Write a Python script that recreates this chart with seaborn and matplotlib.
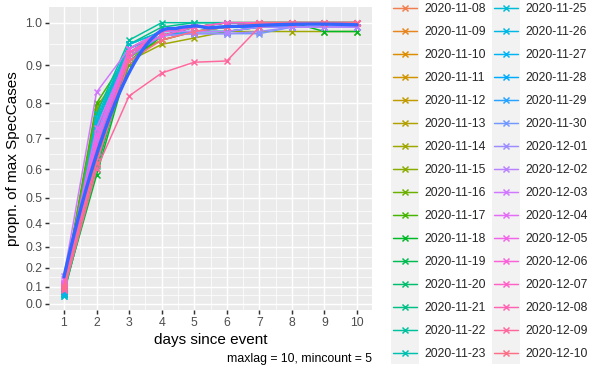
import numpy as np
import pandas as pd
import seaborn as sns
import matplotlib.pyplot as plt
from matplotlib.lines import Line2D
from matplotlib.patches import Rectangle

DAYS = [1, 2, 3, 4, 5, 6, 7, 8, 9, 10]

DATES = [
    "2020-11-08", "2020-11-09", "2020-11-10", "2020-11-11", "2020-11-12",
    "2020-11-13", "2020-11-14", "2020-11-15", "2020-11-16", "2020-11-17",
    "2020-11-18", "2020-11-19", "2020-11-20", "2020-11-21", "2020-11-22",
    "2020-11-23", "2020-11-25", "2020-11-26", "2020-11-27", "2020-11-28",
    "2020-11-29", "2020-11-30", "2020-12-01", "2020-12-02", "2020-12-03",
    "2020-12-04", "2020-12-05", "2020-12-06", "2020-12-07", "2020-12-08",
    "2020-12-09", "2020-12-10",
]

# proportion of max SpecCases, one row per event date, one column per day
PROPN = [
    [0.08, 0.62, 0.92, 0.97, 0.99, 1.00, 1.00, 1.00, 1.00, 1.00],
    [0.07, 0.64, 0.93, 0.98, 0.99, 0.99, 1.00, 1.00, 1.00, 1.00],
    [0.09, 0.66, 0.93, 0.97, 0.98, 0.99, 0.99, 1.00, 1.00, 1.00],
    [0.08, 0.68, 0.92, 0.96, 0.98, 0.99, 1.00, 1.00, 1.00, 1.00],
    [0.10, 0.70, 0.93, 0.97, 0.99, 0.99, 1.00, 1.00, 1.00, 1.00],
    [0.09, 0.72, 0.94, 0.98, 0.99, 1.00, 1.00, 1.00, 1.00, 1.00],
    [0.10, 0.79, 0.91, 0.95, 0.965, 0.98, 0.98, 0.98, 0.98, 0.98],
    [0.11, 0.78, 0.92, 0.96, 0.98, 0.98, 0.99, 0.99, 0.99, 0.99],
    [0.09, 0.63, 0.90, 0.97, 0.98, 0.99, 1.00, 1.00, 1.00, 1.00],
    [0.11, 0.80, 0.93, 0.98, 0.99, 1.00, 1.00, 1.00, 1.00, 1.00],
    [0.08, 0.58, 0.91, 0.97, 0.99, 1.00, 1.00, 1.00, 0.98, 0.98],
    [0.07, 0.60, 0.92, 0.98, 0.99, 0.99, 1.00, 1.00, 1.00, 1.00],
    [0.06, 0.61, 0.93, 0.97, 0.99, 1.00, 1.00, 1.00, 1.00, 1.00],
    [0.06, 0.74, 0.95, 0.99, 1.00, 1.00, 1.00, 1.00, 1.00, 1.00],
    [0.06, 0.77, 0.96, 1.00, 1.00, 1.00, 1.00, 1.00, 1.00, 1.00],
    [0.05, 0.75, 0.95, 0.98, 0.99, 0.99, 0.99, 0.99, 0.99, 0.99],
    [0.05, 0.76, 0.95, 0.98, 0.98, 0.98, 0.99, 0.99, 0.99, 0.99],
    [0.06, 0.74, 0.94, 0.98, 0.99, 0.99, 0.99, 0.99, 0.99, 0.99],
    [0.07, 0.72, 0.94, 0.97, 0.98, 0.98, 0.99, 0.99, 0.99, 0.99],
    [0.08, 0.70, 0.93, 0.98, 0.99, 0.99, 0.99, 0.99, 0.99, 0.99],
    [0.09, 0.68, 0.92, 0.97, 0.98, 0.99, 0.99, 0.99, 0.99, 0.99],
    [0.10, 0.66, 0.92, 0.97, 0.975, 0.975, 0.975, 0.99, 0.99, 0.99],
    [0.11, 0.69, 0.93, 0.97, 0.975, 0.975, 0.98, 0.99, 0.99, 0.99],
    [0.12, 0.70, 0.93, 0.98, 0.98, 0.98, 0.99, 0.99, 0.99, 0.99],
    [0.16, 0.83, 0.94, 0.98, 0.99, 0.99, 1.00, 1.00, 1.00, 1.00],
    [0.14, 0.73, 0.93, 0.98, 0.99, 1.00, 1.00, 1.00, 1.00, 1.00],
    [0.12, 0.71, 0.94, 0.98, 0.99, 0.99, 1.00, 1.00, 1.00, 1.00],
    [0.11, 0.68, 0.93, 0.97, 0.99, 0.99, 1.00, 1.00, 1.00, 1.00],
    [0.10, 0.66, 0.92, 0.98, 0.99, 1.00, 1.00, 1.00, 1.00, 1.00],
    [0.09, 0.64, 0.93, 0.98, 0.99, 0.99, 1.00, 1.00, 1.00, 1.00],
    [0.08, 0.60, 0.82, 0.88, 0.907, 0.91, 0.99, 1.00, 1.00, 1.00],
    [0.10, 0.62, 0.91, 0.96, 0.98, 0.99, 1.00, 1.00, 1.00, 1.00],
]

Y_TICKS = [0.0, 0.1, 0.2, 0.3, 0.4, 0.5, 0.6, 0.7, 0.8, 0.9, 1.0]
FIRST_LEVEL = "2020-11-07"
N_LEVELS = 34
CAPTION = "maxlag = 10, mincount = 5"


def hcl_colour(h, c=100.0, l=65.0):
    # ggplot-style hue colour (polar Luv -> sRGB)
    hr = np.deg2rad(h)
    u, v = c * np.cos(hr), c * np.sin(hr)
    xn, yn, zn = 95.047, 100.0, 108.883
    den = xn + 15 * yn + 3 * zn
    un, vn = 4 * xn / den, 9 * yn / den
    y = yn * ((l + 16) / 116) ** 3
    up, vp = u / (13 * l) + un, v / (13 * l) + vn
    x = y * 9 * up / (4 * vp)
    z = y * (12 - 3 * up - 20 * vp) / (4 * vp)
    m = np.array([[3.2406, -1.5372, -0.4986],
                  [-0.9689, 1.8758, 0.0415],
                  [0.0557, -0.2040, 1.0570]])
    rgb = m @ (np.array([x, y, z]) / 100)
    rgb = np.where(rgb <= 0.0031308, 12.92 * rgb,
                   1.055 * np.abs(rgb) ** (1 / 2.4) - 0.055)
    return tuple(np.clip(rgb, 0, 1))


def loess(x, y, xs, span=0.75):
    n = len(x)
    k = int(np.ceil(span * n))
    fit = []
    for x0 in xs:
        d = np.abs(x - x0)
        h = np.sort(d)[k - 1]
        w = np.clip(1 - (d / h) ** 3, 0, 1) ** 3
        X = np.column_stack([np.ones(n), x - x0, (x - x0) ** 2])
        sw = np.sqrt(w)
        beta = np.linalg.lstsq(X * sw[:, None], y * sw, rcond=None)[0]
        fit.append(beta[0])
    return np.array(fit)


rows = []
for date, vals in zip(DATES, PROPN):
    for day, p in zip(DAYS, vals):
        rows.append({"date": date, "day": day, "propn": p})
df = pd.DataFrame(rows)

start = pd.Timestamp(FIRST_LEVEL)
palette = {}
for date in DATES:
    idx = (pd.Timestamp(date) - start).days
    palette[date] = hcl_colour(15 + 360 * idx / N_LEVELS)

sns.set_theme(style="darkgrid")
plt.rcParams["font.family"] = ["Liberation Sans", "DejaVu Sans"]
plt.rcParams["axes.facecolor"] = "#EBEBEB"

W, H = 604, 373
fig = plt.figure(figsize=(W / 100, H / 100), dpi=100)
ax = fig.add_axes([49.3 / W, 1 - 310 / H, (371.7 - 49.3) / W, (310 - 6.7) / H])

sns.lineplot(
    data=df, x="day", y="propn", hue="date", hue_order=DATES,
    palette=palette, marker="x", markersize=4.5, linewidth=1.07,
    markeredgewidth=1.07, errorbar=None, legend=False, ax=ax,
)
for line in ax.lines:
    line.set_markeredgecolor(line.get_color())

# smooth fitted in the transformed (exp) space, like stat_smooth
xs = np.linspace(min(DAYS), max(DAYS), 80)
fit = loess(df["day"].to_numpy(float), np.exp(df["propn"].to_numpy()), xs)
sns.lineplot(x=xs, y=np.log(fit), color="#3366FF", linewidth=2.4, ax=ax)

ax.set_yscale("function", functions=(np.exp, np.log))
ax.set_ylim(-0.0374, 1.0353)
ax.set_xlim(0.55, 10.45)
ax.set_yticks(Y_TICKS)
ax.set_yticklabels([f"{t:.1f}" for t in Y_TICKS])
ax.set_xticks(DAYS)
ax.set_xticks([d + 0.5 for d in DAYS[:-1]], minor=True)
ey = np.exp(Y_TICKS)
ax.set_yticks(np.log((ey[:-1] + ey[1:]) / 2), minor=True)

ax.grid(which="major", color="white", linewidth=1.07)
ax.grid(which="minor", color="white", linewidth=0.53)
for s in ax.spines.values():
    s.set_visible(False)
ax.tick_params(which="major", length=2.75, width=1.07, color="#333333",
               labelsize=8.8, labelcolor="#4D4D4D", pad=2.2,
               bottom=True, left=True)
ax.tick_params(which="minor", length=0)

ax.set_xlabel("days since event", fontsize=11, color="black", labelpad=3)
ax.set_ylabel("propn. of max SpecCases", fontsize=11, color="black", labelpad=4)

fig.text(371.7 / W, 1 - 359 / H, CAPTION, ha="right", va="center",
         fontsize=8.8, color="black")

handles = [
    Line2D([], [], color=palette[d], marker="x", linewidth=1.07,
           markersize=4.5, markeredgewidth=1.07)
    for d in DATES
]
leg = fig.legend(
    handles, DATES, loc="upper left", bbox_to_anchor=(393 / W, 1 - 3 / H),
    ncol=2, frameon=False, fontsize=8.8, handlelength=1.96,
    handletextpad=0.65, columnspacing=0.6, labelspacing=0.9,
    borderpad=0, borderaxespad=0,
)

# grey key backgrounds behind each legend column
fig.canvas.draw()
rend = fig.canvas.get_renderer()
boxes = [h.get_window_extent(rend) for h in leg.legend_handles]
n_rows = (len(DATES) + 1) // 2
for col in range(2):
    cb = boxes[col * n_rows:(col + 1) * n_rows]
    cy = [(b.y0 + b.y1) / 2 for b in cb]
    pitch = (cy[0] - cy[-1]) / (len(cy) - 1)
    x0 = min(b.x0 for b in cb) + 1.07
    x1 = max(b.x1 for b in cb) - 1.07
    y0 = cy[-1] - pitch / 2
    y1 = cy[0] + pitch / 2
    fig.add_artist(Rectangle((x0 / W, y0 / H), (x1 - x0) / W, (y1 - y0) / H,
                             transform=fig.transFigure, facecolor="#F2F2F2",
                             edgecolor="none", zorder=1))

fig.savefig("out.png", dpi=100)
